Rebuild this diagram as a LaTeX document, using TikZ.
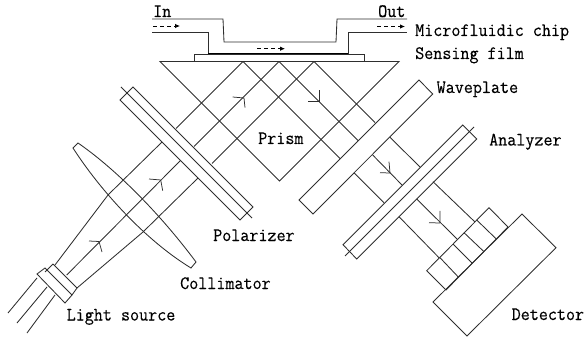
\documentclass[tikz,border=0pt]{standalone}
\usepackage{fontspec}
\usetikzlibrary{arrows.meta}
\newfontfamily\labfont[FakeBold=0.35,FakeStretch=0.93]{Latin Modern Mono}
\definecolor{ink}{HTML}{2E2E2E}
\tikzset{
  ln/.style={draw=ink,line width=0.85pt,line join=miter},
  heavy/.style={draw=black,line width=1.5pt},
  flow/.style={draw=black,line width=0.85pt,dash pattern=on 4pt off 3pt,-{Latex[length=5pt,width=4.5pt]}},
  lbl/.style={anchor=base west,inner sep=0pt,text=black,font=\fontsize{18.9}{21}\selectfont\labfont}
}
\begin{document}
\begin{tikzpicture}[x=1pt,y=-1pt]
\useasboundingbox (0,0) rectangle (587,342);
% microfluidic chip
\draw[ln] (152,19) -- (223,19) -- (224,42) -- (336,42) -- (337,19) -- (407,19);
\draw[ln] (152,32.5) -- (208,32.5) -- (208,54) (348,54) -- (348,32.5) -- (407,32.5);
\draw[heavy] (208,54) -- (348,54);
\draw[flow] (153,26) -- (180,26);
\draw[flow] (377,26.5) -- (405,26.5);
\draw[flow] (257,48.7) -- (285,48.7);
% sensing film and prism
\draw[ln] (194,54) rectangle (364,61.5);
\draw[ln] (160,61.5) -- (399,61.5) -- (279.5,181) -- cycle;
% beams through prism
\draw[ln] (243,61.5) -- (176,128.5) (279,61.5) -- (194,146.5) (314,61.5) -- (212,163.5);
\draw[ln] (314,61.5) -- (375,122.5) (279,61.5) -- (358,140.5) (243,61.5) -- (340,158.5);
% polarizer
\draw[ln] (133,87) -- (253,207) -- (240,220) -- (120,100) -- cycle;
\draw[ln] (121,87) -- (252,218);
% waveplate
\draw[ln] (419,80) -- (432.7,94) -- (313,214) -- (299,200) -- cycle;
% analyzer
\draw[ln] (462.7,125) -- (476.7,139) -- (356.7,259) -- (343,244.7) -- cycle;
\draw[ln] (474,127) -- (345,256);
% beams after waveplate and analyzer
\draw[ln] (390,137.3) -- (420,167) (372.7,155) -- (402,185) (354,172.7) -- (384,202.7);
\draw[ln] (433,181.7) -- (475,222) (416.7,199) -- (457,239) (399,216.7) -- (439,257.7);
% detector
\draw[ln] (489,207.7) -- (508,227) -- (446,290) -- (426.7,270.7) -- cycle;
\draw[ln] (476.7,220) -- (496,238.7) (464,232.7) -- (484,251.7) (453,244) -- (472,263) (440,257.7) -- (458,276.7);
\draw[ln] (522,214) -- (556,247.7) -- (467,336) -- (433,302) -- cycle;
% collimator
\draw[ln] (78,143) .. controls (110,165) and (155,207) .. (196,262) -- (191,268)
  .. controls (145,240) and (100,190) .. (73,148) -- cycle;
% beams before polarizer
\draw[ln] (162,142) -- (108,195) -- (55,265);
\draw[ln] (180.5,160.5) -- (66.7,275);
\draw[ln] (198,178) -- (143,232) -- (77,288);
% light source
\draw[ln] (45,268) -- (37,274) -- (65,303) -- (72,295) -- cycle;
\draw[ln] (53,264) -- (45,272) (53,264) -- (77,288) -- (72,295);
\draw[ln] (37,278) -- (8,313) (47,287) -- (17,323) (55,295) -- (27,333);
% arrow barbs
\draw[ln,line width=0.75pt] (89,241) -- (99,241.5) -- (102,252);
\draw[ln,line width=0.75pt] (149,179) -- (160.7,180) -- (162.7,190.7);
\draw[ln,line width=0.75pt] (232.7,97) -- (244,98) -- (245,107.7);
\draw[ln,line width=0.75pt] (308,101) -- (319,101) -- (319,90);
\draw[ln,line width=0.75pt] (380,172.7) -- (390,173) -- (389,161.7);
\draw[ln,line width=0.75pt] (429,222.7) -- (440,223) -- (440,211);
% labels
\node[lbl] (in) at (153,17) {In};
\node[lbl] (out) at (378,17) {Out};
\node[lbl] (chip) at (415,36) {Microfluidic chip};
\node[lbl] (film) at (415,59) {Sensing film};
\node[lbl] (wave) at (436.5,93) {Waveplate};
\node[lbl] (prism) at (258,144) {Prism};
\node[lbl] (ana) at (489,145.5) {Analyzer};
\node[lbl] (pol) at (213,241) {Polarizer};
\node[lbl] (col) at (180,289) {Collimator};
\node[lbl] (src) at (66.5,320.5) {Light source};
\node[lbl] (det) at (511.5,320) {Detector};
\end{tikzpicture}
\end{document}
